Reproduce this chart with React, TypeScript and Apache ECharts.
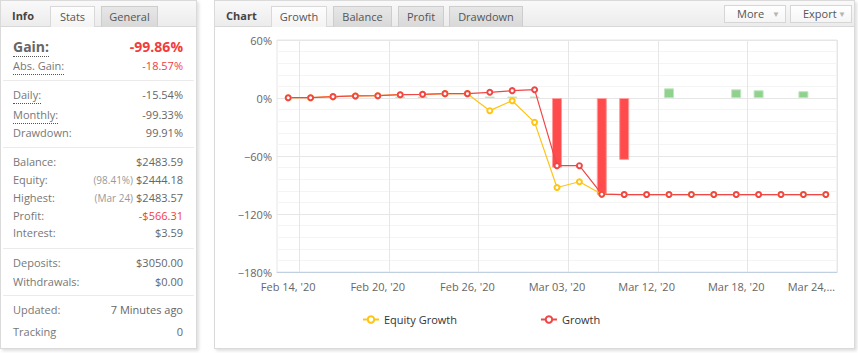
import React, { useEffect, useRef } from 'react';
import * as echarts from 'echarts';

// Trading days shown on the growth chart (one slot per data point)
const days = [
  'Feb 13', 'Feb 14', 'Feb 17', 'Feb 18', 'Feb 19', 'Feb 20', 'Feb 21', 'Feb 24', 'Feb 25',
  'Feb 26', 'Feb 27', 'Feb 28', 'Mar 02', 'Mar 03', 'Mar 04', 'Mar 05', 'Mar 09', 'Mar 10',
  'Mar 12', 'Mar 13', 'Mar 16', 'Mar 18', 'Mar 19', 'Mar 23', 'Mar 24',
];

// Axis labels, one per day slot (empty where no label is drawn)
const tickLabels = [
  "Feb 14, '20", '', '', '', "Feb 20, '20", '', '', '', "Feb 26, '20", '', '', '',
  "Mar 03, '20", '', '', '', "Mar 12, '20", '', '', '', "Mar 18, '20", '', '', '', 'Mar 24,…',
];

// Vertical grid lines sit on the boundaries between day slots (26 boundaries)
const boundaries = Array.from({ length: days.length + 1 }, (_, i) => String(i));

// Cumulative equity growth (%)
const equityGrowth = [
  0.3, 0.3, 1.4, 2.1, 2.4, 3.4, 3.8, 4.5, 4.5, -13.1, -2.8, -25.2, -92.6, -86.6, -99.5,
  -99.86, -99.86, -99.86, -99.86, -99.86, -99.86, -99.86, -99.86, -99.86, -99.86,
];

// Cumulative balance growth (%)
const growth = [
  0.3, 0.3, 1.4, 2.1, 2.4, 3.4, 3.8, 4.5, 4.5, 5.9, 7.6, 8.6, -70, -70, -99.5,
  -99.86, -99.86, -99.86, -99.86, -99.86, -99.86, -99.86, -99.86, -99.86, -99.86,
];

// Daily result bars (%), null where there is no bar
const dailyBars: (number | null)[] = [
  null, null, 1.5, null, null, 1.5, 1.5, null, null, 1.5, 1.5, 1.5, -72, null, -100,
  -64, null, 10, null, null, 9, 8, null, 7, null,
];

const yTickMin = -180;
const yTickMax = 60;
const yTickStep = 60;

type Row = { label: string; value: string; y: number; red?: boolean; note?: string; dotted?: boolean; big?: boolean };

const statRows: Row[] = [
  { label: 'Gain:', value: '-99.86%', y: 47, red: true, dotted: true, big: true },
  { label: 'Abs. Gain:', value: '-18.57%', y: 66, red: true, dotted: true },
  { label: 'Daily:', value: '-15.54%', y: 95, dotted: true },
  { label: 'Monthly:', value: '-99.33%', y: 115, dotted: true },
  { label: 'Drawdown:', value: '99.91%', y: 133 },
  { label: 'Balance:', value: '$2483.59', y: 162 },
  { label: 'Equity:', value: '$2444.18', note: '(98.41%)', y: 180 },
  { label: 'Highest:', value: '$2483.57', note: '(Mar 24)', y: 198 },
  { label: 'Profit:', value: '-$566.31', y: 216, red: true },
  { label: 'Interest:', value: '$3.59', y: 233 },
  { label: 'Deposits:', value: '$3050.00', y: 263 },
  { label: 'Withdrawals:', value: '$0.00', y: 282 },
  { label: 'Updated:', value: '7 Minutes ago', y: 310 },
  { label: 'Tracking', value: '0', y: 332 },
];

const separators = [80, 147, 248, 295];

const FONT = "'Open Sans', 'Noto Sans', sans-serif";

function Tab({ left, width, label, active }: { left: number; width: number; label: string; active?: boolean }) {
  return (
    <div
      style={{
        position: 'absolute', left, top: 6, width, height: 21, boxSizing: 'border-box',
        border: '1px solid ' + (active ? '#d9d9d9' : '#cdcdcd'), borderBottom: 'none',
        background: active ? 'linear-gradient(#fdfdfd, #f3f3f3)' : 'linear-gradient(#e7e7e7, #d8d8d8)',
        fontSize: 11, color: '#555', textAlign: 'center', lineHeight: '20px',
      }}
    >
      {label}
    </div>
  );
}

function Button({ left, width, label }: { left: number; width: number; label: string }) {
  return (
    <div
      style={{
        position: 'absolute', left, top: 5, width, height: 18, boxSizing: 'border-box',
        border: '1px solid #d6d6d6', background: 'linear-gradient(#ffffff, #f5f5f5)',
        fontSize: 11, color: '#555', lineHeight: '16px', paddingLeft: 12,
      }}
    >
      {label}
      <span style={{ position: 'absolute', right: 5, top: 0, fontSize: 8, color: '#b5b5b5' }}>▼</span>
    </div>
  );
}

function Panel({ left, width }: { left: number; width: number }) {
  return (
    <>
      <div
        style={{
          position: 'absolute', left, top: 0, width, height: 349, boxSizing: 'border-box',
          border: '1px solid #dadada', background: '#fff', boxShadow: '2px 2px 3px rgba(0,0,0,0.13)',
        }}
      />
      <div
        style={{
          position: 'absolute', left: left + 1, top: 1, width: width - 2, height: 26, boxSizing: 'border-box',
          borderBottom: '1px solid #d8d8d8', background: 'linear-gradient(#f9f9f9, #ececec)',
        }}
      />
    </>
  );
}

export default function App() {
  const ref = useRef<HTMLDivElement>(null);

  useEffect(() => {
    if (!ref.current) return;
    const chart = echarts.init(ref.current, null, { renderer: 'svg' });
    const lastIndex = days.length - 1;
    chart.setOption({
      animation: false,
      textStyle: { fontFamily: FONT },
      grid: {
        left: 277, top: 40, width: 560, height: 232,
        show: true, borderColor: '#e6e6e6', borderWidth: 1, backgroundColor: 'transparent',
      },
      legend: {
        data: ['Equity Growth', 'Growth'],
        left: 357, top: 309,
        itemWidth: 16, itemHeight: 8, itemGap: 83,
        textStyle: { color: '#333', fontSize: 11, fontFamily: FONT },
      },
      xAxis: [
        {
          type: 'category', data: days, boundaryGap: true, position: 'bottom',
          axisLine: { onZero: false, lineStyle: { color: '#c0d0e0' } },
          axisTick: { show: false },
          splitLine: { show: false },
          axisLabel: {
            interval: (i: number) => tickLabels[i] !== '',
            color: '#666', fontSize: 11, margin: 9,
            formatter: (_v: string, i: number) => (i === lastIndex ? '{last|' + tickLabels[i] + '}' : tickLabels[i]),
            rich: { last: { color: '#666', fontSize: 11, padding: [0, 29, 0, 0] } },
          },
        },
        {
          type: 'category', data: boundaries, boundaryGap: false, position: 'bottom',
          axisLine: { show: false, onZero: false }, axisTick: { show: false }, axisLabel: { show: false },
          splitLine: { show: true, interval: (i: number) => i % 4 === 1, lineStyle: { color: '#e6e6e6' } },
        },
      ],
      yAxis: {
        type: 'value', min: yTickMin, max: yTickMax, interval: yTickStep,
        axisLine: { show: false }, axisTick: { show: false },
        axisLabel: {
          color: '#666', fontSize: 11, margin: 5,
          formatter: (v: number) => (v < 0 ? '\u2212' + Math.abs(v) : String(v)) + '%',
        },
        splitLine: { lineStyle: { color: '#e6e6e6' } },
        minorTick: { show: false, splitNumber: 5 },
        minorSplitLine: { show: true, lineStyle: { color: '#f4f4f4' } },
      },
      series: [
        {
          type: 'bar', name: 'Daily', xAxisIndex: 0, barWidth: 10,
          data: dailyBars.map((v) =>
            v == null
              ? '-'
              : {
                  value: v,
                  itemStyle: v < 0
                    ? { color: '#ff4b4b', borderColor: '#ff9c9c', borderWidth: 1 }
                    : { color: '#8ed28e', borderColor: '#bfe5bf', borderWidth: 1 },
                }
          ),
        },
        {
          type: 'line', name: 'Equity Growth', xAxisIndex: 0, data: equityGrowth,
          symbol: 'emptyCircle', symbolSize: 5, color: '#ffc414',
          lineStyle: { width: 1.2 }, itemStyle: { borderWidth: 1.5 },
        },
        {
          type: 'line', name: 'Growth', xAxisIndex: 0, data: growth,
          symbol: 'emptyCircle', symbolSize: 5, color: '#f04646',
          lineStyle: { width: 1.2 }, itemStyle: { borderWidth: 1.5 },
        },
      ],
    });
    return () => chart.dispose();
  }, []);

  return (
    <div
      style={{
        position: 'fixed', left: 0, top: 0, width: 858, height: 353, overflow: 'hidden',
        background: '#fff', fontFamily: FONT,
      }}
    >
      <Panel left={0} width={197} />
      <Panel left={214} width={641} />

      {/* Info panel header */}
      <div style={{ position: 'absolute', left: 12, top: 8, fontSize: 11, fontWeight: 700, color: '#444' }}>Info</div>
      <Tab left={50} width={45} label="Stats" active />
      <Tab left={101} width={57} label="General" />

      {/* Chart panel header */}
      <div style={{ position: 'absolute', left: 226, top: 8, fontSize: 11, fontWeight: 700, color: '#444' }}>Chart</div>
      <Tab left={271} width={56} label="Growth" active />
      <Tab left={333} width={59} label="Balance" />
      <Tab left={398} width={46} label="Profit" />
      <Tab left={449} width={74} label="Drawdown" />
      <Button left={724} width={62} label="More" />
      <Button left={790} width={62} label="Export" />

      {/* Stats rows */}
      {separators.map((y) => (
        <div key={y} style={{ position: 'absolute', left: 3, top: y, width: 191, height: 1, background: '#ebebeb' }} />
      ))}
      {statRows.map((r) => {
        const h = r.big ? 18 : 16;
        return (
          <div
            key={r.label}
            style={{
              position: 'absolute', left: 13, width: 170, top: r.y - h / 2, height: h, lineHeight: h + 'px',
              display: 'flex', justifyContent: 'space-between', whiteSpace: 'nowrap',
              fontSize: r.big ? 14 : 11,
            }}
          >
            <span
              style={{
                color: r.big ? '#666' : '#777', fontWeight: r.big ? 700 : 400,
                borderBottom: r.dotted ? '1px dotted #555' : 'none', height: h, display: 'inline-block',
              }}
            >
              {r.label}
            </span>
            <span style={{ color: r.red ? '#f33c3c' : '#666', fontWeight: r.big ? 700 : 400 }}>
              {r.note ? <span style={{ color: '#999', fontSize: 10, marginRight: 3 }}>{r.note}</span> : null}
              {r.value}
            </span>
          </div>
        );
      })}

      <div ref={ref} style={{ position: 'absolute', left: 0, top: 0, width: 858, height: 353 }} />
    </div>
  );
}
